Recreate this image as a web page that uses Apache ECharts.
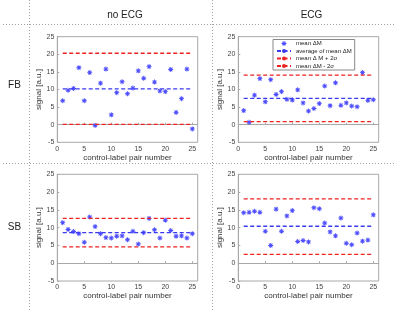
<!DOCTYPE html>
<html>
<head>
<meta charset="utf-8">
<script src="https://cdn.jsdelivr.net/npm/echarts@6/dist/echarts.min.js"></script>
<style>
  html, body { margin: 0; padding: 0; background: #fff; }
  #chart { width: 400px; height: 318px; }
</style>
</head>
<body>
<div id="chart"></div>
<script>
const pairNumbers = [1, 2, 3, 4, 5, 6, 7, 8, 9, 10, 11, 12, 13, 14, 15, 16, 17, 18, 19, 20, 21, 22, 23, 24, 25];

const fbNoEcg = [6.8, 9.8, 10.3, 16.2, 6.8, 14.8, -0.2, 11.8, 15.8, 2.8, 9.1, 12.2, 8.8, 10.4, 15.3, 13.2, 16.5, 12.1, 9.6, 9.4, 15.7, 3.5, 7.4, 15.8, -1.2];
const fbEcg = [4.0, 0.7, 8.4, 13.1, 6.5, 12.8, 8.6, 9.4, 7.2, 7.0, 9.9, 6.2, 3.9, 4.6, 6.0, 11.0, 5.4, 11.9, 5.5, 6.2, 5.3, 5.1, 14.8, 6.9, 7.1];
const sbNoEcg = [11.4, 9.5, 8.9, 8.3, 5.9, 13.0, 10.3, 8.3, 7.2, 7.1, 7.6, 7.7, 6.6, 9.0, 5.4, 8.6, 12.6, 9.4, 7.1, 12.1, 9.2, 7.6, 7.7, 7.1, 8.3];
const sbEcg = [14.2, 14.3, 14.6, 14.3, 9.0, 5.0, 15.2, 9.0, 13.3, 14.8, 6.1, 6.4, 6.0, 15.6, 15.3, 11.3, 8.8, 7.7, 12.7, 5.6, 5.2, 8.5, 6.2, 6.5, 13.6];

// panel order: FB/no ECG, FB/ECG, SB/no ECG, SB/ECG
const averageLines = [10.2, 7.5, 8.6, 10.4];
const upperLines = [20.3, 14.1, 12.6, 18.1];
const lowerLines = [0.1, 0.9, 4.6, 2.5];

const columnTitles = ['no ECG', 'ECG'];
const rowTitles = ['FB', 'SB'];
const legendNames = ['mean \u0394M', 'average of mean \u0394M', 'mean \u0394 M + 2\u03c3', 'mean \u0394M - 2\u03c3'];

const panels = [fbNoEcg, fbEcg, sbNoEcg, sbEcg];
const font = '"Liberation Sans", Arial, sans-serif';
const starPath = 'path://M-1,-0.18L1,-0.18L1,0.18L-1,0.18Z M-0.18,-1L0.18,-1L0.18,1L-0.18,1Z M-0.58,-0.83L0.83,0.58L0.58,0.83L-0.83,-0.58Z M-0.83,0.58L0.58,-0.83L0.83,-0.58L-0.58,0.83Z';

const gridBoxes = [
  { left: 57.3, top: 36.7, width: 140.4, height: 105.6 },
  { left: 238.3, top: 36.7, width: 140.4, height: 105.6 },
  { left: 57.3, top: 174.3, width: 140.4, height: 106.7 },
  { left: 238.3, top: 174.3, width: 140.4, height: 106.7 }
];

const chart = echarts.init(document.getElementById('chart'));

const grid = gridBoxes.map((b) => ({
  left: b.left, top: b.top, width: b.width, height: b.height,
  show: true, borderColor: '#a8a8a8', borderWidth: 1, backgroundColor: '#fff'
}));

const xAxis = gridBoxes.map((b, i) => ({
  type: 'value', gridIndex: i, min: 0, max: 26, interval: 5,
  name: 'control-label pair number', nameLocation: 'middle', nameGap: 11,
  nameTextStyle: { fontFamily: font, fontSize: 8, color: '#333' },
  axisLine: { show: true, lineStyle: { color: '#a8a8a8' } },
  axisTick: { inside: true, length: 2, lineStyle: { color: '#a8a8a8' } },
  axisLabel: { showMaxLabel: false, fontFamily: font, fontSize: 7, color: '#444', margin: 3 },
  splitLine: { show: false }
}));

const yAxis = gridBoxes.map((b, i) => ({
  type: 'value', gridIndex: i, min: -5, max: 25, interval: 5,
  name: 'signal [a.u.]', nameLocation: 'middle', nameGap: 11,
  nameTextStyle: { fontFamily: font, fontSize: 8, color: '#333' },
  axisLine: { show: true, lineStyle: { color: '#a8a8a8' } },
  axisTick: { inside: true, length: 2, lineStyle: { color: '#a8a8a8' } },
  axisLabel: { fontFamily: font, fontSize: 7, color: '#444', margin: 3 },
  splitLine: { show: false }
}));

function hLine(name, value, idx, color) {
  return {
    name, type: 'line', xAxisIndex: idx, yAxisIndex: idx,
    symbol: 'none', silent: true, animation: false,
    lineStyle: { color, width: 1.3, type: [4, 2.5] },
    itemStyle: { color },
    data: [[pairNumbers[0], value], [pairNumbers[pairNumbers.length - 1], value]]
  };
}

const series = [];
panels.forEach((vals, i) => {
  series.push({
    name: legendNames[0], type: 'scatter', xAxisIndex: i, yAxisIndex: i,
    symbol: starPath, symbolSize: 5, animation: false,
    itemStyle: { color: '#2222ff' },
    data: vals.map((v, k) => [pairNumbers[k], v])
  });
  series.push(hLine(legendNames[1], averageLines[i], i, '#3a3aee'));
  series.push(hLine(legendNames[2], upperLines[i], i, '#ee2222'));
  series.push(hLine(legendNames[3], lowerLines[i], i, '#ee2222'));
});

const dotted = { stroke: '#a0a0a0', lineWidth: 1, lineDash: [1, 2] };
const graphic = [
  { type: 'line', shape: { x1: 29.5, y1: 0, x2: 29.5, y2: 312 }, style: dotted },
  { type: 'line', shape: { x1: 212.5, y1: 0, x2: 212.5, y2: 312 }, style: dotted },
  { type: 'line', shape: { x1: 3, y1: 24.5, x2: 394, y2: 24.5 }, style: dotted },
  { type: 'line', shape: { x1: 3, y1: 163.5, x2: 394, y2: 163.5 }, style: dotted },
  { type: 'text', left: 125, top: 15, style: { text: columnTitles[0], font: '10px ' + font, fill: '#222', textAlign: 'center', textVerticalAlign: 'middle' } },
  { type: 'text', x: 311.5, y: 15, style: { text: columnTitles[1], font: '10px ' + font, fill: '#222', textAlign: 'center', textVerticalAlign: 'middle' } },
  { type: 'text', x: 14.5, y: 85, style: { text: rowTitles[0], font: '10px ' + font, fill: '#222', textAlign: 'center', textVerticalAlign: 'middle' } },
  { type: 'text', x: 14.5, y: 227, style: { text: rowTitles[1], font: '10px ' + font, fill: '#222', textAlign: 'center', textVerticalAlign: 'middle' } }
];
graphic[4] = { type: 'text', x: 125, y: 15, style: graphic[4].style };

chart.setOption({
  animation: false,
  grid, xAxis, yAxis, series, graphic,
  legend: {
    data: legendNames, orient: 'vertical', left: 273, top: 39.5,
    selectedMode: false, itemWidth: 14, itemHeight: 5, itemGap: 1.5,
    padding: [1, 3, 1, 3], borderColor: '#888', borderWidth: 1, backgroundColor: '#fff',
    textStyle: { fontFamily: font, fontSize: 6, color: '#222' }
  }
});
</script>
</body>
</html>
